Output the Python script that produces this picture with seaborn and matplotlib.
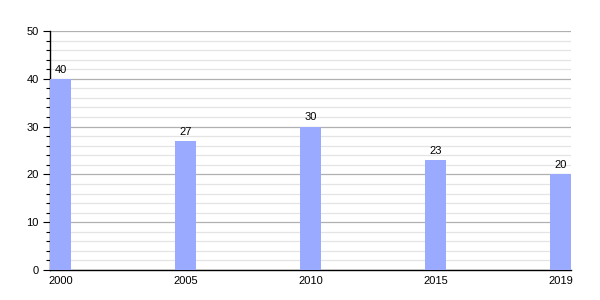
import matplotlib
matplotlib.use("Agg")
import matplotlib.pyplot as plt
import seaborn as sns
import pandas as pd
from matplotlib.ticker import MultipleLocator

years = ["2000", "2005", "2010", "2015", "2019"]
values = [40, 27, 30, 23, 20]

sns.set_theme(style="white")
plt.rcParams['font.family'] = ['Liberation Sans', 'DejaVu Sans']
plt.rcParams['text.color'] = 'black'
plt.rcParams['xtick.color'] = 'black'
plt.rcParams['ytick.color'] = 'black'

df = pd.DataFrame({"year": years, "value": values})

fig = plt.figure(figsize=(6, 3), dpi=100)
ax = fig.add_axes([50/600, 30/300, 521/600, 239/300])

bw = 0.168
sns.barplot(data=df, x="year", y="value", color="#9aabff", saturation=1,
            width=bw, ax=ax, zorder=3, linewidth=0)

ax.set_xlim(-bw/2, len(years) - 1 + bw/2)
ax.set_ylim(0, 50)
ax.yaxis.set_major_locator(MultipleLocator(10))
ax.yaxis.set_minor_locator(MultipleLocator(2))
ax.grid(which="major", axis="y", color="#b0b0b0", linewidth=0.9, zorder=0)
ax.grid(which="minor", axis="y", color="#e4e4e4", linewidth=0.9, zorder=0)
ax.set_axisbelow(True)

for s in ["top", "right"]:
    ax.spines[s].set_visible(False)
ax.spines["left"].set_color("black")
ax.spines["bottom"].set_color("black")
ax.spines["left"].set_linewidth(1)
ax.spines["bottom"].set_linewidth(1)

ax.tick_params(axis="y", which="major", length=5, width=0.8, color="black",
               labelsize=8, pad=3, left=True, labelcolor="black")
ax.tick_params(axis="y", which="minor", length=3, width=0.8, color="black", left=True)
ax.tick_params(axis="x", length=0, labelsize=8, pad=4, labelcolor="black")

ax.set_xlabel("")
ax.set_ylabel("")

for c in ax.containers:
    ax.bar_label(c, labels=[str(v) for v in values], fontsize=8, padding=3, color="black")

fig.savefig("out.png", dpi=100)
